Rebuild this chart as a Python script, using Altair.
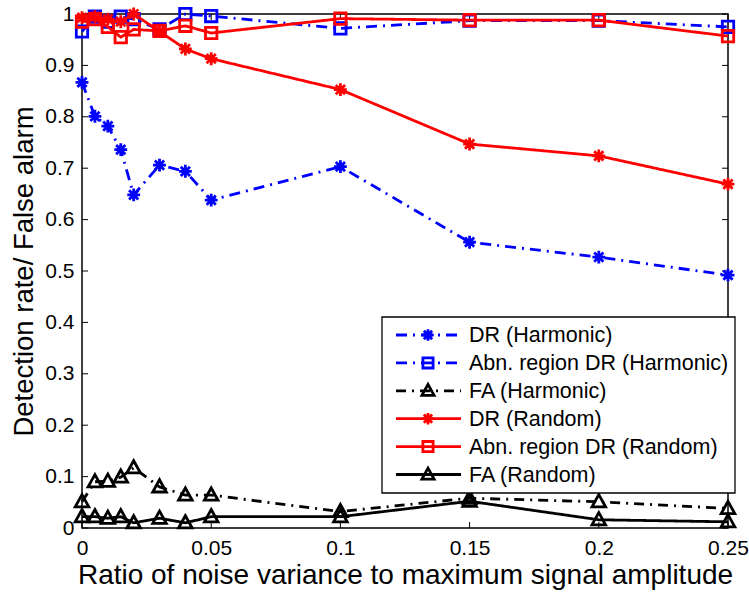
import altair as alt
import pandas as pd

# ---------------- data ----------------
x_vals = [0, 0.005, 0.01, 0.015, 0.02, 0.03, 0.04, 0.05, 0.1, 0.15, 0.2, 0.25]

dr_harmonic = [0.867, 0.801, 0.782, 0.736, 0.648, 0.706, 0.694, 0.638, 0.703, 0.556, 0.527, 0.492]
abn_harmonic = [0.966, 0.995, 0.985, 0.995, 0.990, 0.970, 1.000, 0.996, 0.972, 0.987, 0.987, 0.975]
fa_harmonic = [0.051, 0.090, 0.091, 0.099, 0.117, 0.080, 0.064, 0.064, 0.032, 0.058, 0.051, 0.038]
dr_random = [0.993, 0.995, 0.990, 0.985, 1.000, 0.966, 0.932, 0.913, 0.853, 0.747, 0.724, 0.669]
abn_random = [0.985, 0.990, 0.975, 0.955, 0.970, 0.967, 0.977, 0.963, 0.991, 0.988, 0.988, 0.957]
fa_random = [0.022, 0.022, 0.019, 0.022, 0.010, 0.019, 0.010, 0.022, 0.022, 0.052, 0.016, 0.012]

series_labels = ["DR (Harmonic)", "Abn. region DR (Harmonic)", "FA (Harmonic)",
                 "DR (Random)", "Abn. region DR (Random)", "FA (Random)"]
series_values = [dr_harmonic, abn_harmonic, fa_harmonic, dr_random, abn_random, fa_random]

x_ticks = [0, 0.05, 0.1, 0.15, 0.2, 0.25]
y_ticks = [0, 0.1, 0.2, 0.3, 0.4, 0.5, 0.6, 0.7, 0.8, 0.9, 1.0]

x_title = "Ratio of noise variance to maximum signal amplitude"
y_title = "Detection rate/ False alarm"

# ---------------- styles ----------------
FONT = "Liberation Sans"
STAR = "M-1,0L1,0M0,-1L0,1M-0.72,-0.72L0.72,0.72M-0.72,0.72L0.72,-0.72"
TRI = "M0,-1.05L1,0.75L-1,0.75Z"
DASHDOT_B = [11, 6, 2, 6]
DASHDOT_K = [10, 6, 2, 6]
LW = 2.8
styles = [
    dict(color="#0000ff", dash=DASHDOT_B, shape=STAR, size=165),
    dict(color="#0000ff", dash=DASHDOT_B, shape="square", size=130),
    dict(color="#000000", dash=DASHDOT_K, shape=TRI, size=185),
    dict(color="#ff0000", dash=[1, 0], shape=STAR, size=165),
    dict(color="#ff0000", dash=[1, 0], shape="square", size=130),
    dict(color="#000000", dash=[1, 0], shape=TRI, size=185),
]

W, H = 646, 514
X0, X1 = 0.0, 0.25
Y0, Y1 = 0.0, 1.0


def px2x(px):
    return X0 + px / W * (X1 - X0)


def py2y(py):
    return Y1 - py / H * (Y1 - Y0)


xs = alt.Scale(domain=[X0, X1], nice=False, zero=False)
ys = alt.Scale(domain=[Y0, Y1], nice=False, zero=False)

x_axis = alt.Axis(values=x_ticks, format=".2~f", ticks=False, domain=False, grid=False,
                  labelFont=FONT, labelFontSize=21, labelColor="black", labelPadding=9,
                  titleFont=FONT, titleFontSize=28, titleFontWeight="normal",
                  titleColor="black", titlePadding=3, labelFlush=False)
y_axis = alt.Axis(values=y_ticks, format=".1~f", ticks=False, domain=False, grid=False,
                  labelFont=FONT, labelFontSize=21, labelColor="black", labelPadding=8,
                  titleFont=FONT, titleFontSize=27.5, titleFontWeight="normal",
                  titleColor="black", titlePadding=6, labelFlush=False)


def X(field):
    return alt.X(field, type="quantitative", scale=xs, axis=x_axis, title=x_title)


def Y(field):
    return alt.Y(field, type="quantitative", scale=ys, axis=y_axis, title=y_title)


layers = []

# ---------------- inward ticks on all four sides ----------------
tlen_x = px2x(6)
tlen_y = 6 / H
yt_df = pd.DataFrame({"y": y_ticks})
xt_df = pd.DataFrame({"x": x_ticks})
tick_left = alt.Chart(yt_df).transform_calculate(xa=f"{X0}", xb=f"{X0 + tlen_x}").mark_rule(
    color="black", strokeWidth=1).encode(x=X("xa"), x2="xb:Q", y=Y("y"))
tick_right = alt.Chart(yt_df).transform_calculate(xa=f"{X1 - tlen_x}", xb=f"{X1}").mark_rule(
    color="black", strokeWidth=1).encode(x=X("xa"), x2="xb:Q", y=Y("y"))
tick_bottom = alt.Chart(xt_df).transform_calculate(ya=f"{Y0}", yb=f"{Y0 + tlen_y}").mark_rule(
    color="black", strokeWidth=1).encode(x=X("x"), y=Y("ya"), y2="yb:Q")
tick_top = alt.Chart(xt_df).transform_calculate(ya=f"{Y1 - tlen_y}", yb=f"{Y1}").mark_rule(
    color="black", strokeWidth=1).encode(x=X("x"), y=Y("ya"), y2="yb:Q")
layers += [tick_left, tick_right, tick_bottom, tick_top]

# ---------------- series ----------------
for label, vals, st in zip(series_labels, series_values, styles):
    df = pd.DataFrame({"x": x_vals, "y": vals, "series": label})
    base = alt.Chart(df).encode(x=X("x"), y=Y("y"))
    line = base.mark_line(color=st["color"], strokeWidth=LW, strokeDash=st["dash"])
    pts = base.mark_point(shape=st["shape"], size=st["size"], filled=False,
                          color=st["color"], strokeWidth=LW, opacity=1)
    layers += [line, pts]

# ---------------- legend (drawn in data space) ----------------
box = pd.DataFrame({"xa": [px2x(382 - 82)], "xb": [px2x(735 - 82)],
                    "ya": [py2y(493 - 14)], "yb": [py2y(317 - 14)]})
layers.append(alt.Chart(box).mark_rect(fill="white", stroke="black", strokeWidth=1.3).encode(
    x=X("xa"), x2="xb:Q", y=Y("ya"), y2="yb:Q"))

row0, step = 335 - 14, 27.9
for i, (label, st) in enumerate(zip(series_labels, styles)):
    ry = py2y(row0 + i * step)
    ldf = pd.DataFrame({"label": [label], "xa": [px2x(396 - 82)], "xb": [px2x(461 - 82)],
                        "xm": [px2x(428 - 82)], "xt": [px2x(469 - 82)], "y": [ry]})
    lb = alt.Chart(ldf)
    layers.append(lb.mark_rule(color=st["color"], strokeWidth=LW, strokeDash=st["dash"]).encode(
        x=X("xa"), x2="xb:Q", y=Y("y")))
    layers.append(lb.mark_point(shape=st["shape"], size=st["size"] * 0.8, filled=False,
                                color=st["color"], strokeWidth=LW, opacity=1).encode(
        x=X("xm"), y=Y("y")))
    layers.append(lb.mark_text(align="left", baseline="middle", font=FONT, fontSize=21.5,
                               color="black", dy=1).encode(x=X("xt"), y=Y("y"), text="label:N"))

chart = alt.layer(*layers).properties(
    width=W, height=H,
    padding={"left": 82, "top": 14, "right": 21, "bottom": 66},
    autosize="none",
    background="white",
).configure_view(stroke="black", strokeWidth=1.5)

chart.save("out.html", embed_options={"renderer": "svg", "actions": False})
